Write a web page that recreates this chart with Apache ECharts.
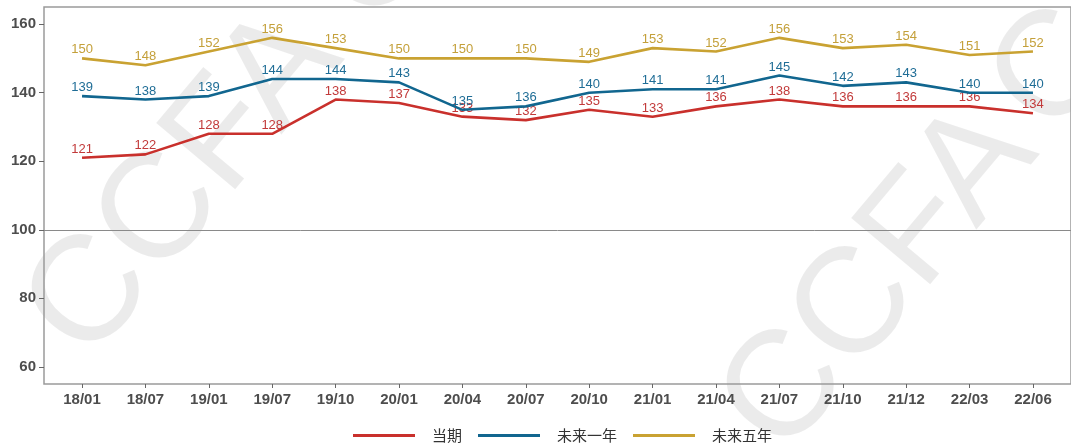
<!DOCTYPE html>
<html><head><meta charset="utf-8">
<script src="https://cdn.jsdelivr.net/npm/echarts@6/dist/echarts.min.js"></script>
<style>html,body{margin:0;padding:0;background:#fff}#c{width:1071px;height:446px}</style>
</head><body><div id="c"></div>
<script>
const categories = ['18/01','18/07','19/01','19/07','19/10','20/01','20/04','20/07','20/10','21/01','21/04','21/07','21/10','21/12','22/03','22/06'];
const current  = [121,122,128,128,138,137,133,132,135,133,136,138,136,136,136,134];
const oneYear  = [139,138,139,144,144,143,135,136,140,141,141,145,142,143,140,140];
const fiveYear = [150,148,152,156,153,150,150,150,149,153,152,156,153,154,151,152];
const yTicks = [60,80,100,120,140,160];
const baseline = 100;
const seriesNames = ['当期','未来一年','未来五年'];

const lineColors = ['#c9302c','#11668f','#c9a232'];
const labelColors = ['#c23a3a','#1f6d96','#c4a03a'];
const idx = categories.map((_, i) => i);
const pairs = arr => arr.map((v, i) => [i, v]);

const chart = echarts.init(document.getElementById('c'), null, {renderer: 'canvas'});
const wm = (x, y) => ({
  type: 'text', x: x, y: y, rotation: 50 * Math.PI / 180, z: -10, silent: true,
  style: {text: 'CCFA', fontSize: 150, fontFamily: 'Liberation Sans', fill: 'rgba(0,0,0,0.08)', align: 'center', verticalAlign: 'middle'}
});
const mkSeries = (name, data, i) => ({
  name: name, type: 'line', data: pairs(data), symbol: 'circle', symbolSize: 0.1, showSymbol: true, z: 3 + i,
  lineStyle: {color: lineColors[i], width: 2.6},
  itemStyle: {color: lineColors[i]},
  label: {show: true, position: 'top', distance: 2, color: labelColors[i], fontSize: 13, fontFamily: 'Liberation Sans'},
  labelLayout: {hideOverlap: false},
  animation: false
});
const s = [mkSeries(seriesNames[0], current, 0), mkSeries(seriesNames[1], oneYear, 1), mkSeries(seriesNames[2], fiveYear, 2)];
s[0].markLine = {silent: true, symbol: 'none', label: {show: false}, animation: false,
  lineStyle: {color: '#8a8a8a', width: 1, type: 'solid'}, data: [{yAxis: baseline}]};

chart.setOption({
  animation: false,
  backgroundColor: '#fff',
  graphic: [wm(185, 185), wm(880, 280), wm(1150, -40), wm(470, -150)],
  grid: {left: 44, right: -9, top: 7, bottom: 62, show: true, borderColor: '#9a9a9a', borderWidth: 1.5, backgroundColor: 'transparent'},
  xAxis: {
    type: 'value', min: -0.6, max: 15.6,
    axisLine: {show: false, onZero: false},
    splitLine: {show: false},
    axisTick: {show: true, customValues: idx, length: 4, lineStyle: {color: '#666'}},
    axisLabel: {customValues: idx, formatter: v => categories[v], color: '#4d4d4d', fontWeight: 'bold', fontSize: 15, fontFamily: 'Liberation Sans', margin: 8}
  },
  yAxis: {
    type: 'value', min: 55, max: 165,
    axisLine: {show: false, onZero: false},
    splitLine: {show: false},
    axisTick: {show: true, customValues: yTicks, length: 5, lineStyle: {color: '#666'}},
    axisLabel: {customValues: yTicks, color: '#4d4d4d', fontWeight: 'bold', fontSize: 15, fontFamily: 'Liberation Sans', margin: 8}
  },
  legend: {
    left: 348, top: 423, icon: 'rect', itemWidth: 62, itemHeight: 3, itemGap: 16,
    textStyle: {fontFamily: 'Noto Sans CJK SC', fontSize: 15, color: '#333', padding: [0, 0, 0, 12]},
    data: seriesNames
  },
  series: s
});
</script></body></html>
